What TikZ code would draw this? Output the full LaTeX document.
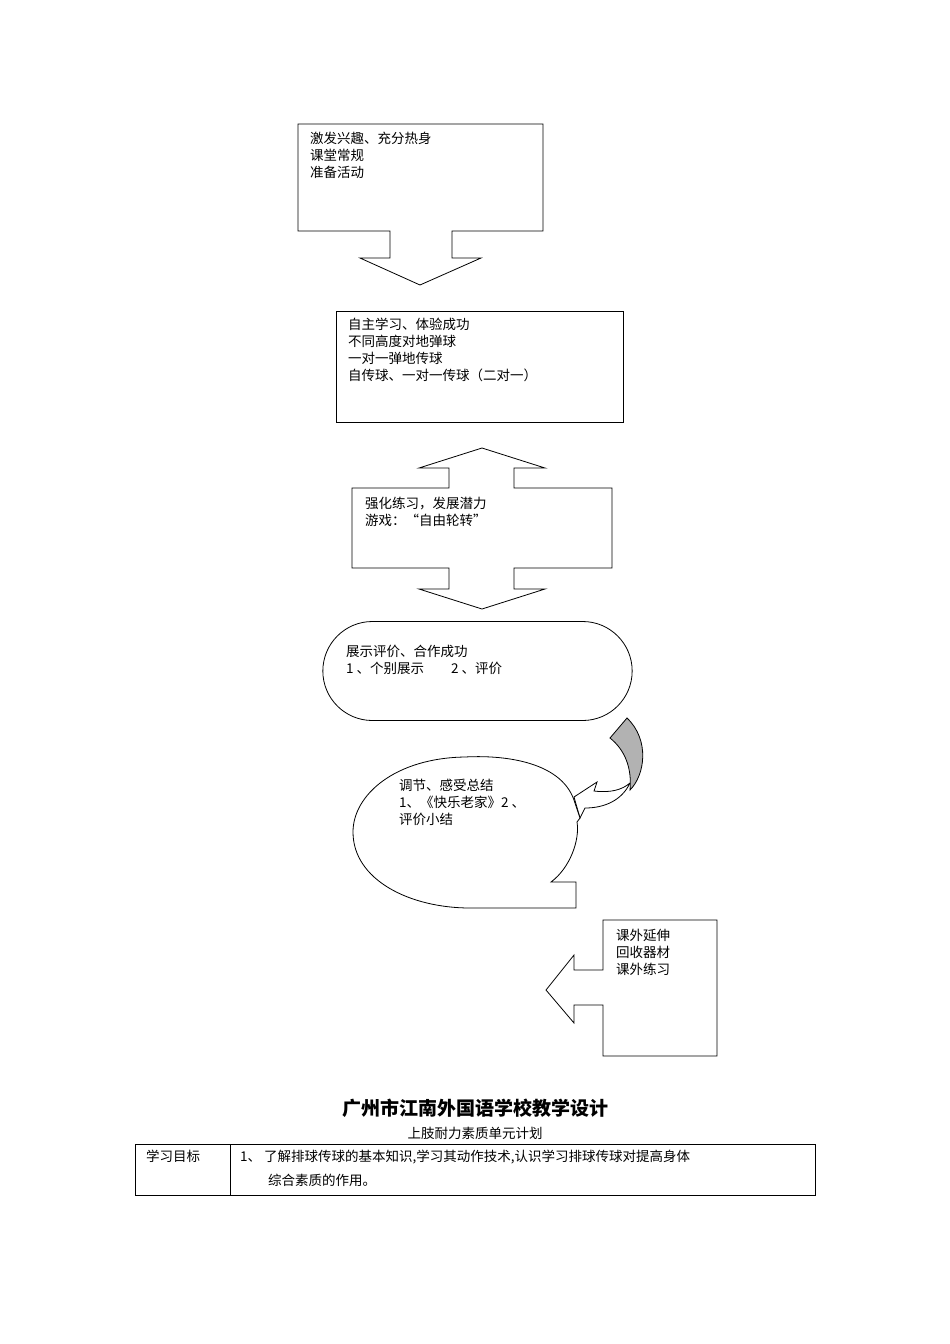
\documentclass[tikz,border=0pt]{standalone}
\usepackage{fontspec}
\setmainfont{Noto Sans CJK SC}
\usetikzlibrary{shapes.geometric,shapes.misc}
\begin{document}
\begin{tikzpicture}[x=1pt,y=-1pt,
  sh/.style={draw=black,line width=0.8pt,fill=white},
  txt/.style={anchor=north west,align=left,inner sep=0pt,font=\fontsize{13.5}{17}\selectfont}]
\useasboundingbox (0,0) rectangle (950,1344);
% 1
\draw[sh] (298,124)--(543,124)--(543,231)--(452,231)--(452,258)--(481,258)--(420,285)--(360,258)--(390,258)--(390,231)--(298,231)--cycle;
\node[txt] (t1) at (310,132) {激发兴趣、充分热身\\课堂常规\\准备活动};
% 2
\draw[sh] (336,311) rectangle (623,422);
\node[txt] (t2) at (348,318) {自主学习、体验成功\\不同高度对地弹球\\一对一弹地传球\\自传球、一对一传球（二对一）};
% 3 double arrow
\draw[sh] (482,448)--(545,468)--(514,468)--(514,488)--(612,488)--(612,568)--(514,568)--(514,589)--(545,589)--(482,609)--(419,589)--(449,589)--(449,568)--(352,568)--(352,488)--(449,488)--(449,468)--(419,468)--cycle;
\node[txt] (t3) at (365,497) {强化练习，发展潜力\\游戏：“自由轮转”};
% 4 stadium
\node[sh,rounded rectangle,minimum width=316pt,minimum height=99pt] (s4) at (477.5,671) {};
\node[txt] (t4) at (346,645) {展示评价、合作成功\\1 、个别展示\hspace{2em}2 、评价};
% curved arrow
\draw[sh,fill=gray!60] (610,738)--(627,718) .. controls (650,740) and (645,775) .. (630,790) .. controls (632,768) and (625,750) .. cycle;
\draw[sh] (630,783) .. controls (622,800) and (605,808) .. (585,808)--(580,818)--(574,797)--(597,782)--(594,791) .. controls (610,793) and (622,790) .. (630,783);
% 5 ellipse callout
\draw[sh] (574,800) .. controls (560,760) and (500,755) .. (465,757) .. controls (395,758) and (353,795) .. (353,832) .. controls (353,880) and (410,908) .. (470,908) -- (576,908) -- (576,882) -- (551,882) .. controls (570,868) and (580,840) .. (577,822) -- (580,818) -- cycle;
\node[txt] (t5) at (399,779) {调节、感受总结\\1、《快乐老家》2 、\\评价小结};
% 6
\draw[sh] (603,920)--(717,920)--(717,1056)--(603,1056)--(603,1005)--(574,1005)--(574,1023)--(546,990)--(574,955)--(574,970)--(603,970)--cycle;
\node[txt] (t6) at (616,929) {课外延伸\\回收器材\\课外练习};
% title and table
\node[font=\fontsize{19}{22}\selectfont\bfseries] (title) at (475,1108) {广州市江南外国语学校教学设计};
\node[font=\fontsize{13.5}{16}\selectfont] (sub) at (475,1133) {上肢耐力素质单元计划};
\draw[line width=0.8pt] (135,1144) rectangle (815,1195);
\draw[line width=0.8pt] (230,1144)--(230,1195);
\node[txt] (c1) at (146,1150) {学习目标};
\node[txt] (c2) at (240,1150) {1、 了解排球传球的基本知识,学习其动作技术,认识学习排球传球对提高身体};
\node[txt] (c3) at (268,1174) {综合素质的作用。};
\end{tikzpicture}
\end{document}
